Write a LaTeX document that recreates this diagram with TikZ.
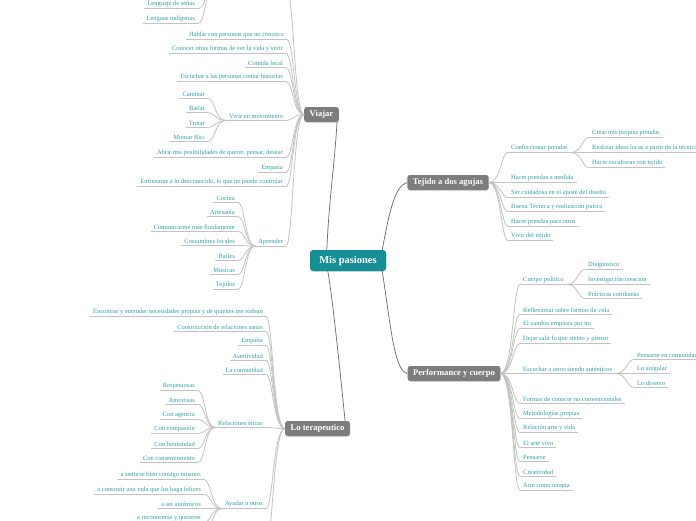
\documentclass[tikz,border=0pt]{standalone}
\usepackage{fontspec}
\setmainfont{Liberation Serif}
\usetikzlibrary{calc,shadows}
\definecolor{leafc}{RGB}{50,158,168}
\definecolor{lnc}{RGB}{195,195,195}
\definecolor{mainln}{RGB}{105,105,105}
\definecolor{brc}{RGB}{125,125,125}
\definecolor{cenc}{RGB}{22,142,150}
\tikzset{
  leaf/.style={font=\fontsize{6.45}{7.5}\selectfont, text=leafc, inner xsep=3pt, inner ysep=1.3pt},
  uline/.style={draw=lnc, line width=0.8pt},
  lconn/.style={draw=lnc, line width=0.8pt},
  branch/.style={fill=brc, text=white, font=\bfseries\fontsize{8.6}{9.5}\selectfont, rounded corners=2.5pt, minimum height=15pt, inner xsep=5.5pt, inner ysep=0pt, drop shadow={shadow xshift=0.6pt, shadow yshift=-0.8pt, opacity=0.25}},
  cenbox/.style={fill=cenc, text=white, font=\bfseries\fontsize{10.5}{12}\selectfont, rounded corners=3pt, minimum height=21pt, minimum width=76pt, inner sep=0pt, drop shadow={shadow xshift=0.6pt, shadow yshift=-0.8pt, opacity=0.25}},
  mainconn/.style={draw=mainln, line width=0.7pt}
}
\newcommand\conL[2]{\draw[lconn] let \p1=(#1), \p2=(#2) in (\p1) .. controls (\x2+7pt,\y1) and (\x2+7pt,\y2) .. (\p2);}
\newcommand\conR[2]{\draw[lconn] let \p1=(#1), \p2=(#2) in (\p1) .. controls (\x2-7pt,\y1) and (\x2-7pt,\y2) .. (\p2);}
\newcommand\leafL[5]{%
  \node[leaf,anchor=south east] (#1) at ({#2+3},#3) {#5};
  \draw[uline] (#1.south west) -- (#1.south east);
  \conL{#4}{#1.south east}}
\newcommand\leafR[5]{%
  \node[leaf,anchor=south west] (#1) at ({#2-3},#3) {#5};
  \draw[uline] (#1.south west) -- (#1.south east);
  \conR{#4}{#1.south west}}
\begin{document}
\begin{tikzpicture}[x=1pt,y=-1pt]
\useasboundingbox (0,0) rectangle (696,520);
\fill[white] (0,0) rectangle (696,520);
\clip (0,0) rectangle (696,520);

% main nodes
\node[cenbox] (cen) at (348,260.5) {Mis pasiones};
\node[branch] (vj) at (321.5,114.5) {Viajar};
\node[branch] (tj) at (448,182.5) {Tejido a dos agujas};
\node[branch] (pf) at (454,373.5) {Performance y cuerpo};
\node[branch] (tp) at (317.5,428.5) {Lo terapeutico};

\draw[mainconn] ($(cen.north west)+(17,0)$) .. controls (329,200) and (335,160) .. ($(vj.south east)+(-2,0)$);
\draw[mainconn] ($(cen.south west)+(18,0)$) .. controls (333,300) and (342,390) .. ($(tp.north east)+(-5,0)$);
\draw[mainconn] ($(cen.north east)+(-4,0)$) .. controls (389,215) and (394,186) .. (tj.west);
\draw[mainconn] ($(cen.south east)+(-4,0)$) .. controls (390,320) and (394,372) .. (pf.west);

% Viajar
\coordinate (idmR) at (287,-8);
\coordinate (idmL) at (212,-8);
\conL{vj.west}{idmR}
\leafL{ls}{195}{8.5}{idmL}{Lenguaje de señas}
\leafL{li}{195}{23.5}{idmL}{Lenguas indígenas}
\leafL{v1}{284}{39.5}{vj.west}{Hablar con personas que no conozco}
\leafL{v2}{283}{53.5}{vj.west}{Conocer otras formas de ver la vida y vivir}
\leafL{v3}{283}{67.5}{vj.west}{Comida local}
\leafL{v4}{283}{81.5}{vj.west}{Escuchar a las personas contar historias}
\leafL{vm}{283}{120.5}{vj.west}{Vivir en movimiento}
\leafL{vm1}{205}{98.5}{vm.south west}{Caminar}
\leafL{vm2}{205}{112.5}{vm.south west}{Bailar}
\leafL{vm3}{205}{127.5}{vm.south west}{Trotar}
\leafL{vm4}{205}{141.5}{vm.south west}{Montar Bici}
\leafL{v5}{283}{157.5}{vj.west}{Abrir mis posibilidades de querer, pensar, desear}
\leafL{v6}{283}{172.5}{vj.west}{Empatía}
\leafL{v7}{283}{186.5}{vj.west}{Enfrenarse a lo desconocido, lo que no puedo controlar}
\leafL{ap}{283}{246}{vj.west}{Aprender}
\leafL{ap1}{235}{202.5}{ap.south west}{Cocina}
\leafL{ap2}{235}{216.5}{ap.south west}{Artesanía}
\leafL{ap3}{235}{231.5}{ap.south west}{Comunicarme más fluidamente}
\leafL{ap4}{235}{245.5}{ap.south west}{Costumbres locales}
\leafL{ap5}{235}{260.5}{ap.south west}{Bailes}
\leafL{ap6}{235}{274.5}{ap.south west}{Músicas}
\leafL{ap7}{235}{289.5}{ap.south west}{Tejidos}

% Tejido
\leafR{cp}{511}{152.5}{tj.east}{Confeccionar prendas}
\leafR{cp1}{592}{137.5}{cp.south east}{Crear mis propias prendas}
\leafR{cp2}{592}{152.5}{cp.south east}{Realizar ideas locas a partir de la técnica}
\leafR{cp3}{592}{167.5}{cp.south east}{Hacer esculturas con tejido}
\leafR{t1}{511}{182.5}{tj.east}{Hacer prendas a medida}
\leafR{t2}{511}{197.5}{tj.east}{Ser cuidadosa en el ajuste del diseño}
\leafR{t3}{511}{211.5}{tj.east}{Buena Técnica y realización pulcra}
\leafR{t4}{511}{226.5}{tj.east}{Hacer prendas para otros}
\leafR{t5}{511}{240.5}{tj.east}{Vivir del tejido}

% Performance
\leafR{cu}{523}{284.5}{pf.east}{Cuerpo político}
\leafR{cu1}{588}{269.5}{cu.south east}{Diagnostico}
\leafR{cu2}{588}{284.5}{cu.south east}{Investigación/creación}
\leafR{cu3}{588}{298.5}{cu.south east}{Prácticas cotidianas}
\leafR{p1}{523}{314.5}{pf.east}{Reflexionar sobre formas de vida}
\leafR{p2}{523}{328.5}{pf.east}{El cambio empieza por mi}
\leafR{p3}{523}{343.5}{pf.east}{Dejar salir lo que siento y pienso}
\leafR{es}{523}{373.5}{pf.east}{Escuchar a otros siendo auténticos}
\leafR{es1}{637}{359.5}{es.south east}{Pensarse en comunidad}
\leafR{es2}{637}{373.5}{es.south east}{Lo singular}
\leafR{es3}{637}{387.5}{es.south east}{Lo diverso}
\leafR{p4}{523}{403.5}{pf.east}{Formas de conocer no convencionales}
\leafR{p5}{523}{418.5}{pf.east}{Metodologías propias}
\leafR{p6}{523}{432.5}{pf.east}{Relación arte y vida}
\leafR{p7}{523}{447.5}{pf.east}{El arte vivo}
\leafR{p8}{523}{461.5}{pf.east}{Pensarse}
\leafR{p9}{523}{476.5}{pf.east}{Creatividad}
\leafR{p10}{523}{490.5}{pf.east}{Arte como terapia}

% Lo terapeutico
\leafL{l1}{263}{316.5}{tp.west}{Encontrar y entender necesidades propias y de quienes me rodean}
\leafL{l2}{263}{331.5}{tp.west}{Construcción de relaciones sanas}
\leafL{l3}{263}{345.5}{tp.west}{Empatía}
\leafL{l4}{263}{360.5}{tp.west}{Asertividad}
\leafL{l5}{263}{374.5}{tp.west}{La comunidad}
\leafL{re}{263}{427.5}{tp.west}{Relaciones éticas}
\leafL{re1}{195}{390.5}{re.south west}{Respetuosas}
\leafL{re2}{195}{404.5}{re.south west}{Amorosas}
\leafL{re3}{195}{419.5}{re.south west}{Con agencia}
\leafL{re4}{195}{433.5}{re.south west}{Con compasión}
\leafL{re5}{195}{448.5}{re.south west}{Con honestidad}
\leafL{re6}{195}{462.5}{re.south west}{Con consentimiento}
\leafL{ay}{263}{508.5}{tp.west}{Ayudar a otros}
\leafL{ay1}{201}{479.5}{ay.south west}{a sentirse bien consigo mismos}
\leafL{ay2}{201}{494.5}{ay.south west}{a construir una vida que los haga felices}
\leafL{ay3}{201}{508.5}{ay.south west}{a ser auténticos}
\leafL{ay4}{201}{522.5}{ay.south west}{a reconocerse y quererse}
\coordinate (ayx) at (204,538);
\conL{ay.south west}{ayx}
\coordinate (tpx) at (266,545);
\conL{tp.west}{tpx}
\end{tikzpicture}
\end{document}
